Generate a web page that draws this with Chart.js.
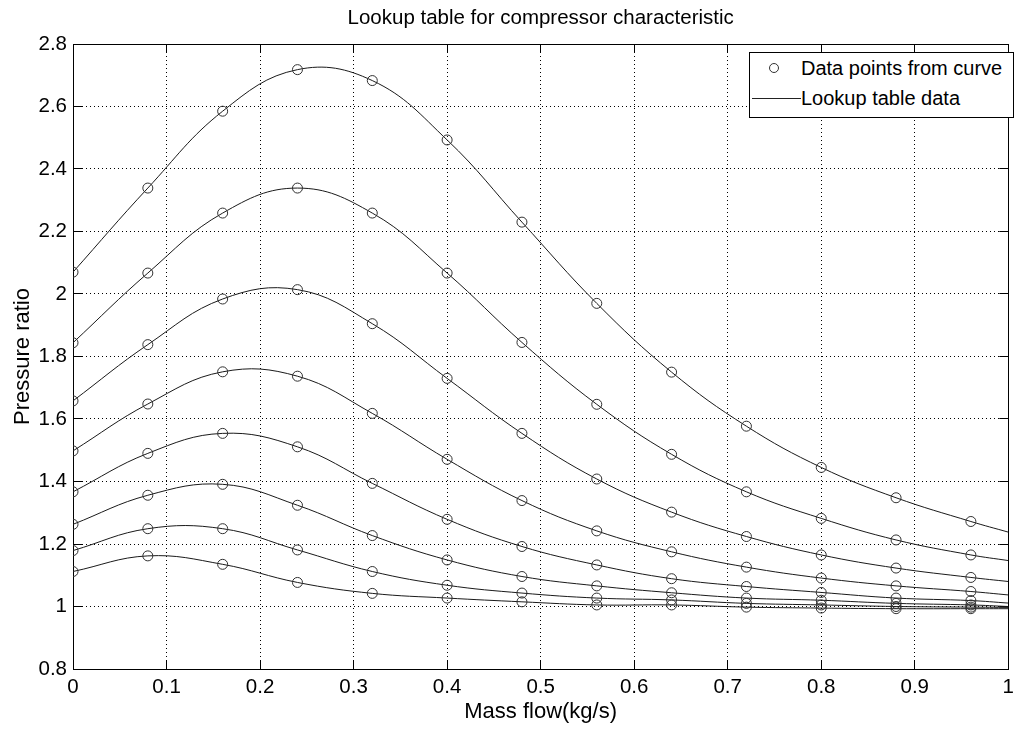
<!DOCTYPE html>
<html>
<head>
<meta charset="utf-8">
<script src="https://cdn.jsdelivr.net/npm/chart.js@4.4.1/dist/chart.umd.min.js"></script>
<style>
  html, body { margin: 0; padding: 0; background: #fff; }
  #wrap { position: relative; width: 1029px; height: 730px; }
  #legendBox { position: absolute; left: 749px; top: 52px; width: 263px; height: 64px; border: 1px solid #000; background: #fff;
    font-family: 'Liberation Sans', Arial, Helvetica, sans-serif; font-size: 20px; color: #000; }
  .lrow { position: absolute; left: 0; width: 263px; height: 24px; line-height: 24px; }
  .ltext { position: absolute; left: 51px; top: 0; white-space: nowrap; }
  .lcirc { position: absolute; left: 19px; top: 7px; border: 1px solid #333; border-radius: 50%; box-sizing: border-box; width: 10px; height: 10px; }
  .lline { position: absolute; left: 2px; top: 12px; width: 49px; height: 0; border-top: 1px solid #222; }
</style>
</head>
<body>
<div id="wrap">
  <canvas id="c" width="1029" height="730"></canvas>
  <div id="legendBox">
    <div class="lrow" style="top:3px"><span class="lcirc"></span><span class="ltext">Data points from curve</span></div>
    <div class="lrow" style="top:33px"><span class="lline"></span><span class="ltext">Lookup table data</span></div>
  </div>
</div>
<script>
// ---- data ----
const massFlow = [0, 0.08, 0.16, 0.24, 0.32, 0.40, 0.48, 0.56, 0.64, 0.72, 0.80, 0.88, 0.96];
const lineEndX = 1.0;

const curve1 = [2.070, 2.339, 2.585, 2.718, 2.683, 2.493, 2.230, 1.970, 1.750, 1.577, 1.445, 1.348, 1.272];
const curve2 = [1.844, 2.067, 2.259, 2.339, 2.259, 2.067, 1.845, 1.647, 1.487, 1.367, 1.282, 1.213, 1.165];
const curve3 = [1.658, 1.838, 1.984, 2.014, 1.905, 1.730, 1.554, 1.408, 1.302, 1.224, 1.165, 1.123, 1.093];
const curve4 = [1.498, 1.648, 1.751, 1.737, 1.618, 1.471, 1.339, 1.242, 1.175, 1.126, 1.091, 1.066, 1.048];
const curve5 = [1.367, 1.490, 1.554, 1.511, 1.394, 1.279, 1.192, 1.133, 1.089, 1.064, 1.045, 1.027, 1.019];
const curve6 = [1.263, 1.356, 1.391, 1.324, 1.227, 1.149, 1.096, 1.066, 1.044, 1.027, 1.020, 1.010, 1.005];
const curve7 = [1.179, 1.249, 1.249, 1.181, 1.112, 1.068, 1.043, 1.027, 1.021, 1.010, 1.005, 1.000, 0.998];
const curve8 = [1.112, 1.162, 1.135, 1.077, 1.042, 1.027, 1.015, 1.005, 1.005, 0.998, 0.995, 0.993, 0.993];
// lookup-table line values at mass flow = 1.0 (right edge)
const lineEnd = [1.238, 1.147, 1.080, 1.037, 1.011, 1.000, 0.997, 0.993];

const xTickLabels = ['0', '0.1', '0.2', '0.3', '0.4', '0.5', '0.6', '0.7', '0.8', '0.9', '1'];
const yTickLabels = ['0.8', '1', '1.2', '1.4', '1.6', '1.8', '2', '2.2', '2.4', '2.6', '2.8'];

const titleText = 'Lookup table for compressor characteristic';
const xTitle = 'Mass flow(kg/s)';
const yTitle = 'Pressure ratio';
const legendPoints = 'Data points from curve';
const legendLine = 'Lookup table data';

// ---- build datasets ----
const curves = [curve1, curve2, curve3, curve4, curve5, curve6, curve7, curve8];
const FONT = "'Liberation Sans', Arial, Helvetica, sans-serif";
const datasets = [];
curves.forEach((c, i) => {
  const pts = massFlow.map((x, j) => ({x: x, y: c[j]}));
  datasets.push({
    label: legendLine,
    data: pts.concat([{x: lineEndX, y: lineEnd[i]}]),
    showLine: true,
    borderColor: '#1a1a1a',
    borderWidth: 1,
    tension: 0.4,
    pointRadius: 0,
    pointHoverRadius: 0,
    fill: false,
    order: 2
  });
  datasets.push({
    label: legendPoints,
    data: pts,
    showLine: false,
    pointStyle: 'circle',
    pointRadius: 5,
    pointBorderWidth: 1,
    pointBorderColor: '#303030',
    pointBackgroundColor: 'rgba(0,0,0,0)',
    order: 1
  });
});

const tickFont = {family: FONT, size: 20.5};

new Chart(document.getElementById('c'), {
  type: 'scatter',
  data: {datasets: datasets},
  options: {
    responsive: false,
    animation: false,
    devicePixelRatio: 1,
    layout: {padding: {left: 0, right: 9, top: 0, bottom: 0}},
    plugins: {
      legend: {display: false},
      tooltip: {enabled: false},
      title: {
        display: true,
        fullSize: false,
        text: titleText,
        color: '#000',
        font: {family: FONT, size: 20.5, weight: 'normal'},
        padding: {top: 6, bottom: 13.4}
      }
    },
    scales: {
      x: {
        type: 'linear', position: 'bottom', min: 0, max: 1,
        ticks: {stepSize: 0.1, color: '#000', font: tickFont, padding: 15, maxRotation: 0,
          callback: (v, i) => xTickLabels[i]},
        grid: {color: '#000', lineWidth: 1, drawTicks: true, tickLength: -9, tickBorderDash: [], tickColor: '#000'},
        border: {display: true, color: '#000', width: 1, dash: [1, 3]},
        title: {display: true, text: xTitle, color: '#000', font: {family: FONT, size: 22}, padding: {top: 0, bottom: 5}},
        afterFit: (s) => { s.height = 61; }
      },
      y: {
        type: 'linear', position: 'left', min: 0.8, max: 2.8,
        ticks: {stepSize: 0.2, color: '#000', font: tickFont, padding: 15,
          callback: (v, i) => yTickLabels[i]},
        grid: {color: '#000', lineWidth: 1, drawTicks: true, tickLength: -9, tickBorderDash: [], tickColor: '#000'},
        border: {display: true, color: '#000', width: 1, dash: [1, 3]},
        title: {display: true, text: yTitle, color: '#000', font: {family: FONT, size: 22}, padding: {top: 9.3, bottom: 0}},
        afterFit: (s) => { s.width = 73; }
      },
      x2: {
        type: 'linear', position: 'top', min: 0, max: 1,
        ticks: {stepSize: 0.1, display: false},
        grid: {drawOnChartArea: false, drawTicks: true, tickLength: -9, color: '#000', tickColor: '#000', tickBorderDash: []},
        border: {display: true, color: '#000', width: 1},
        afterFit: (s) => { s.height = 0; }
      },
      y2: {
        type: 'linear', position: 'right', min: 0.8, max: 2.8,
        ticks: {stepSize: 0.2, display: false},
        grid: {drawOnChartArea: false, drawTicks: true, tickLength: -9, color: '#000', tickColor: '#000', tickBorderDash: []},
        border: {display: true, color: '#000', width: 1},
        afterFit: (s) => { s.width = 0; }
      }
    }
  }
});
</script>
</body>
</html>
